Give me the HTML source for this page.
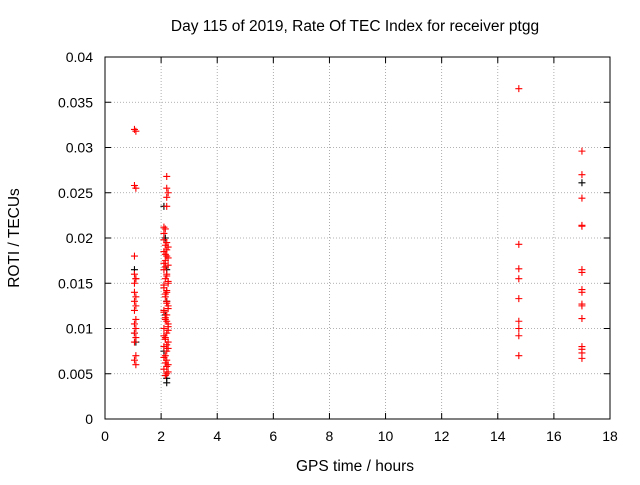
<!DOCTYPE html>
<html><head><meta charset="utf-8"><style>
body{margin:0;background:#fff;font-family:"Liberation Sans",sans-serif;}
svg text{font-family:"Liberation Sans",sans-serif;font-size:14px;fill:#000;}
</style></head><body>
<svg width="640" height="480">
<text x="355" y="31" text-anchor="middle" style="font-size:15.5px">Day 115 of 2019, Rate Of TEC Index for receiver ptgg</text>
<g id="grid"></g>
<rect x="105" y="57" width="505" height="362" fill="none" stroke="#000"/>
<g id="axes"></g>
<g id="pts"></g>
<text x="355" y="471" text-anchor="middle" style="font-size:15.5px">GPS time / hours</text>
<text transform="translate(19,238) rotate(-90)" text-anchor="middle" style="font-size:15.5px">ROTI / TECUs</text>
</svg>
<script>
const xTicks=[0,2,4,6,8,10,12,14,16,18];
const yTicks=[0,0.005,0.01,0.015,0.02,0.025,0.03,0.035,0.04];
const yTickLabels=["0","0.005","0.01","0.015","0.02","0.025","0.03","0.035","0.04"];
const blackX=[1.05,1.05,1.1,2.1,2.15,2.2,2.2,2.15,2.1,2.2,2.2,17.0];
const blackY=[0.0165,0.0095,0.0085,0.0235,0.02,0.0165,0.013,0.0115,0.0075,0.0045,0.004,0.0261];
const redX=[1.05,1.1,1.05,1.1,1.05,1.05,1.1,1.05,1.1,1.05,1.1,1.05,1.1,1.05,1.1,1.05,1.1,1.05,1.1,1.05,1.1,1.05,1.1,
2.2,2.2,2.25,2.2,2.15,2.1,2.2,2.25,2.1,2.2,2.15,2.25,2.1,2.2,2.15,2.25,2.1,2.2,2.15,2.2,2.25,2.1,2.2,2.15,2.25,2.1,2.2,2.15,2.25,2.1,2.2,2.15,2.2,2.25,2.1,2.2,2.15,2.2,
2.1,2.15,2.2,2.25,2.1,2.15,2.2,2.25,2.1,2.15,2.2,2.25,2.1,2.15,2.2,2.25,2.1,2.15,2.2,2.25,2.1,2.15,2.2,2.25,2.1,2.15,2.2,2.25,
14.75,14.75,14.75,14.75,14.75,14.75,14.75,14.75,14.75,
17.0,17.0,17.0,17.0,17.0,17.0,17.0,17.0,17.0,17.0,17.0,17.0,17.0,17.0,17.0,17.0];
const redY=[0.032,0.0318,0.0258,0.0255,0.018,0.016,0.0155,0.015,0.0155,0.014,0.0135,0.013,0.0125,0.012,0.011,0.0105,0.01,0.0095,0.009,0.0085,0.007,0.0065,0.006,
0.0268,0.0255,0.025,0.0245,0.021,0.0205,0.0195,0.019,0.0185,0.018,0.0175,0.017,0.0165,0.016,0.0155,0.015,0.0145,0.014,0.0135,0.013,0.0125,0.012,0.0115,0.011,0.0105,0.01,0.0095,0.009,0.0085,0.008,0.0075,0.007,0.0065,0.006,0.0055,0.005,0.0048,0.0235,
0.0198,0.0192,0.0187,0.0178,0.0172,0.0168,0.0158,0.0152,0.0148,0.0138,0.0128,0.0122,0.0118,0.0112,0.0108,0.0098,0.0092,0.0088,0.0082,0.0078,0.0068,0.0062,0.0058,0.0052,0.0212,0.0182,0.0142,0.0102,
0.0365,0.0193,0.0166,0.0155,0.0133,0.0108,0.01,0.0092,0.007,
0.0296,0.027,0.0244,0.0214,0.0213,0.0165,0.0162,0.0143,0.014,0.0127,0.0125,0.0111,0.008,0.0077,0.0073,0.0067];
const X=v=>105+v*505/18, Y=v=>419-v*362/0.04;
const ns="http://www.w3.org/2000/svg";
function mk(t,a,p){const e=document.createElementNS(ns,t);for(const k in a)e.setAttribute(k,a[k]);p.appendChild(e);return e;}
const g=document.getElementById('grid'),ax=document.getElementById('axes'),pts=document.getElementById('pts');
xTicks.forEach(v=>{const x=X(v);
 if(v>0&&v<18){const l=mk('line',{x1:x,x2:x,y1:57,y2:419,stroke:'#999','stroke-dasharray':'1,2','stroke-width':0.8},g);
 
 }
 mk('line',{x1:x,x2:x,y1:419,y2:413,stroke:'#000'},ax);mk('line',{x1:x,x2:x,y1:57,y2:63,stroke:'#000'},ax);
 const t=mk('text',{x:x,y:441,'text-anchor':'middle'},ax);t.textContent=v;
 
 });
yTicks.forEach((v,i)=>{const y=Y(v);
 if(v>0&&v<0.04){const l=mk('line',{x1:105,x2:610,y1:y,y2:y,stroke:'#999','stroke-dasharray':'1,2','stroke-width':0.8},g);
 
 }
 mk('line',{x1:105,x2:111,y1:y,y2:y,stroke:'#000'},ax);mk('line',{x1:604,x2:610,y1:y,y2:y,stroke:'#000'},ax);
 const t=mk('text',{x:93,y:y+5,'text-anchor':'end'},ax);t.textContent=yTickLabels[i];
 
 });
function plus(x,y,c,name){const p=mk('path',{d:`M${x-3.5},${y}h7M${x},${y-3.5}v7`,stroke:c,'stroke-width':1.1},pts);
 
 }
blackX.forEach((v,i)=>plus(X(v),Y(blackY[i]),'#000','point-black'));
redX.forEach((v,i)=>plus(X(v),Y(redY[i]),'#f00','point-red'));
</script>
</body></html>
